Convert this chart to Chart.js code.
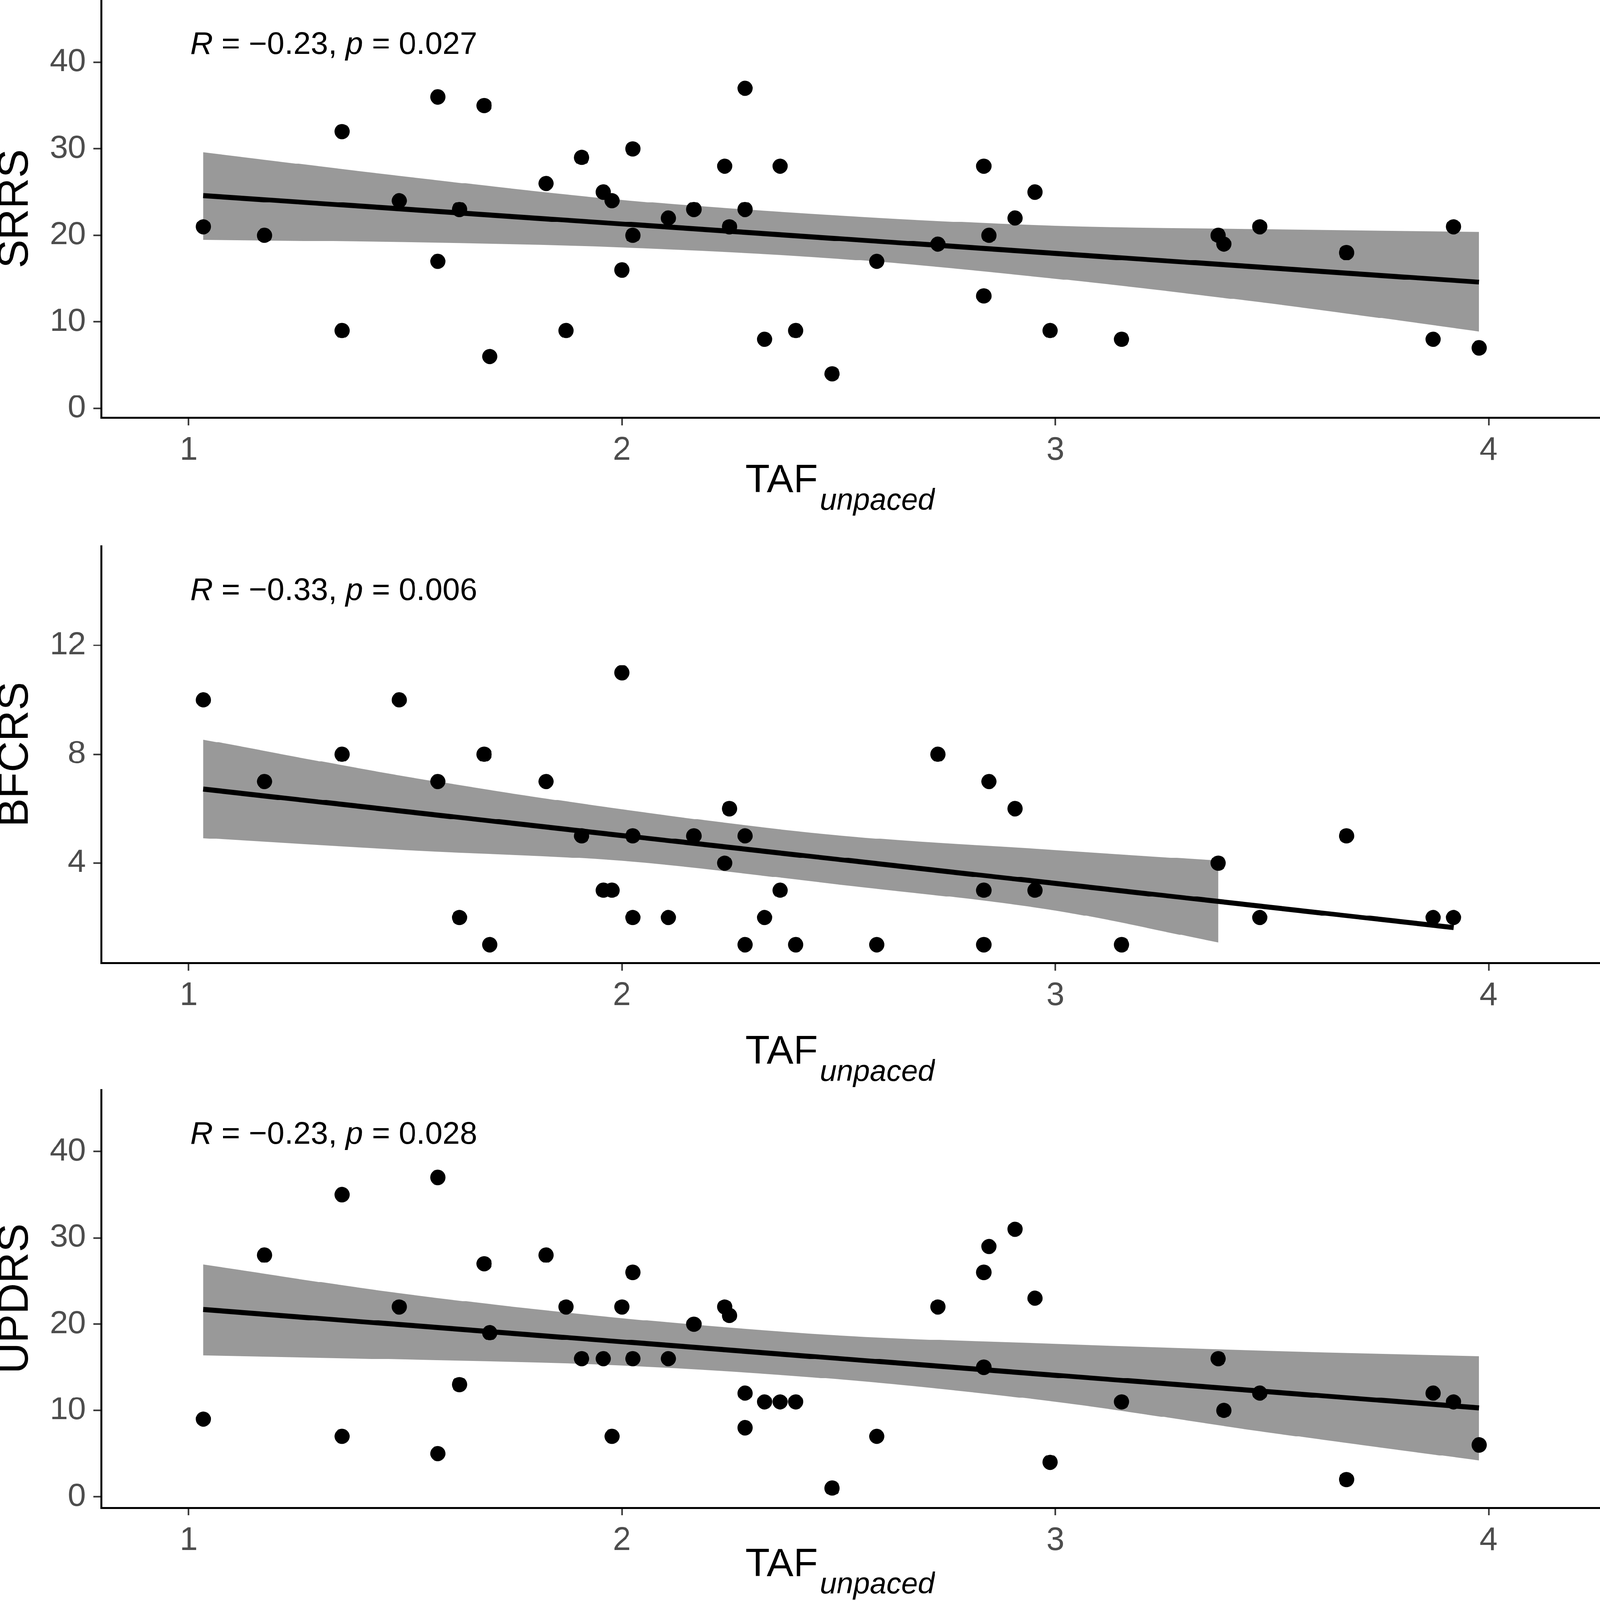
<!DOCTYPE html>
<html lang="en">
<head>
    <meta charset="UTF-8">
    <title>TAF unpaced vs SRRS, BFCRS, UPDRS</title>
    <script src="https://cdn.jsdelivr.net/npm/chart.js@4"></script>
    <style>
        html, body { margin: 0; padding: 0; background: #fff; overflow: hidden; }
        #page { position: relative; width: 4179px; height: 4179px; overflow: hidden; background: #fff; transform-origin: 0 0; }
        #page canvas { position: absolute; left: 0; }
    </style>
</head>
<body>
    <div id="page">
        <canvas id="srrsChart" width="4179" height="1400" style="top:0px;width:4179px;height:1400px"></canvas>
        <canvas id="bfcrsChart" width="4179" height="1520" style="top:1330px;width:4179px;height:1520px"></canvas>
        <canvas id="updrsChart" width="4179" height="1399" style="top:2780px;width:4179px;height:1399px"></canvas>
    </div>

    <script>
        // ---- data ----
        const xTicks = [1, 2, 3, 4];

        // SRRS panel
        const srrsTaf = [1.034, 1.175, 1.354, 1.354, 1.486, 1.575, 1.575, 1.625, 1.682, 1.695,
                         1.825, 1.871, 1.907, 1.957, 1.977, 2.000, 2.025, 2.025, 2.107, 2.166,
                         2.237, 2.248, 2.284, 2.284, 2.329, 2.365, 2.401, 2.485, 2.588, 2.729,
                         2.835, 2.835, 2.847, 2.907, 2.953, 2.988, 3.153, 3.376, 3.389, 3.472,
                         3.672, 3.872, 3.919, 3.978];
        const srrs = [21, 20, 32, 9, 24, 36, 17, 23, 35, 6,
                      26, 9, 29, 25, 24, 16, 30, 20, 22, 23,
                      28, 21, 37, 23, 8, 28, 9, 4, 17, 19,
                      28, 13, 20, 22, 25, 9, 8, 20, 19, 21,
                      18, 8, 21, 7];
        const srrsFitX = [1.034, 3.978];
        const srrsFitY = [24.6, 14.6];
        const srrsBandX = [1.034, 1.5, 2.0, 2.5, 3.0, 3.5, 3.978];
        const srrsBandHi = [29.6, 26.8, 24.1, 22.3, 21.1, 20.7, 20.4];
        const srrsBandLo = [19.5, 19.2, 18.6, 17.3, 15.0, 12.1, 8.9];
        const srrsTicks = [0, 10, 20, 30, 40];

        // BFCRS panel
        const bfcrsTaf = [1.034, 1.175, 1.354, 1.486, 1.575, 1.625, 1.682, 1.695, 1.825, 1.907,
                          1.957, 1.977, 2.000, 2.025, 2.025, 2.107, 2.166, 2.237, 2.248, 2.284,
                          2.284, 2.329, 2.365, 2.401, 2.588, 2.729, 2.835, 2.835, 2.847, 2.907,
                          2.953, 3.153, 3.376, 3.472, 3.672, 3.872, 3.919];
        const bfcrs = [10, 7, 8, 10, 7, 2, 8, 1, 7, 5,
                       3, 3, 11, 5, 2, 2, 5, 4, 6, 5,
                       1, 2, 3, 1, 1, 8, 3, 1, 7, 6,
                       3, 1, 4, 2, 5, 2, 2];
        const bfcrsFitX = [1.034, 3.919];
        const bfcrsFitY = [6.72, 1.63];
        const bfcrsBandX = [1.034, 1.5, 2.0, 2.5, 3.0, 3.376];
        const bfcrsBandHi = [8.54, 7.19, 5.98, 5.02, 4.48, 4.09];
        const bfcrsBandLo = [4.92, 4.48, 4.08, 3.21, 2.26, 1.08];
        const bfcrsTicks = [4, 8, 12];

        // UPDRS panel
        const updrsTaf = srrsTaf;
        const updrs = [9, 28, 35, 7, 22, 37, 5, 13, 27, 19,
                       28, 22, 16, 16, 7, 22, 26, 16, 16, 20,
                       22, 21, 12, 8, 11, 11, 11, 1, 7, 22,
                       26, 15, 29, 31, 23, 4, 11, 16, 10, 12,
                       2, 12, 11, 6];
        const updrsFitX = [1.034, 3.978];
        const updrsFitY = [21.7, 10.3];
        const updrsBandX = [1.034, 1.5, 2.0, 2.5, 3.0, 3.5, 3.978];
        const updrsBandHi = [26.9, 23.5, 20.7, 18.7, 17.7, 16.9, 16.3];
        const updrsBandLo = [16.4, 15.9, 15.2, 13.6, 11.0, 7.4, 4.2];
        const updrsTicks = [0, 10, 20, 30, 40];

        const rValues = ['-0.23', '-0.33', '-0.23'];
        const pValues = ['0.027', '0.006', '0.028'];

        // the layout is drawn at 4179px; squeeze it into the real viewport
        const page = document.getElementById('page');
        page.style.transform = 'scale(' + (window.innerWidth / 4179) + ',' + (window.innerHeight / 4179) + ')';

        // ---- drawing ----
        const FONT = '"Liberation Sans", Arial, Helvetica, sans-serif';
        const pts = (xs, ys) => xs.map((x, i) => ({ x: x, y: ys[i] }));

        // stats label + TAF_unpaced axis title (subscript needs manual text)
        function panelText(r, p, titleGap) {
            return {
                id: 'panelText',
                afterDraw(chart) {
                    const ctx = chart.ctx;
                    const area = chart.chartArea;
                    ctx.save();
                    ctx.fillStyle = '#000';
                    ctx.textAlign = 'left';
                    ctx.textBaseline = 'alphabetic';

                    let x = 497;
                    const y = area.top + 141;
                    const parts = [
                        ['italic', 'R'],
                        ['normal', ' = ' + r.replace('-', '\u2212') + ', '],
                        ['italic', 'p'],
                        ['normal', ' = ' + p]
                    ];
                    parts.forEach(([style, s]) => {
                        ctx.font = style + ' 82px ' + FONT;
                        ctx.fillText(s, x, y);
                        x += ctx.measureText(s).width;
                    });

                    const base = area.bottom + titleGap;
                    ctx.font = 'normal 104px ' + FONT;
                    const w1 = ctx.measureText('TAF').width;
                    ctx.font = 'italic 78px ' + FONT;
                    const w2 = ctx.measureText('unpaced').width;
                    const start = 2194 - (w1 + w2 + 6) / 2;
                    ctx.font = 'normal 104px ' + FONT;
                    ctx.fillText('TAF', start, base);
                    ctx.font = 'italic 78px ' + FONT;
                    ctx.fillText('unpaced', start + w1 + 6, base + 45);
                    ctx.restore();
                }
            };
        }

        function makePanel(id, cfg) {
            const ctx = document.getElementById(id).getContext('2d');
            return new Chart(ctx, {
                type: 'scatter',
                data: {
                    datasets: [
                        {
                            data: pts(cfg.taf, cfg.score),
                            backgroundColor: '#000',
                            borderWidth: 0,
                            pointRadius: 20,
                            pointHoverRadius: 20
                        },
                        {
                            type: 'line',
                            data: pts(cfg.fitX, cfg.fitY),
                            borderColor: '#000',
                            borderWidth: 13,
                            pointRadius: 0,
                            fill: false
                        },
                        {
                            type: 'line',
                            data: pts(cfg.bandX, cfg.bandHi),
                            borderWidth: 0,
                            borderColor: 'rgba(0,0,0,0)',
                            backgroundColor: '#999999',
                            pointRadius: 0,
                            cubicInterpolationMode: 'monotone',
                            fill: '+1'
                        },
                        {
                            type: 'line',
                            data: pts(cfg.bandX, cfg.bandLo),
                            borderWidth: 0,
                            borderColor: 'rgba(0,0,0,0)',
                            pointRadius: 0,
                            cubicInterpolationMode: 'monotone',
                            fill: false
                        }
                    ]
                },
                options: {
                    responsive: false,
                    devicePixelRatio: 1,
                    animation: false,
                    events: [],
                    layout: {
                        autoPadding: false,
                        padding: { top: cfg.padTop, left: 0, right: 0, bottom: 0 }
                    },
                    plugins: {
                        legend: { display: false },
                        tooltip: { enabled: false }
                    },
                    scales: {
                        x: {
                            type: 'linear',
                            min: 0.798,
                            max: 4.257,
                            afterBuildTicks: (s) => { s.ticks = xTicks.map(v => ({ value: v })); },
                            afterFit: (s) => {
                                s.height = cfg.xAxisH;
                                s.paddingLeft = 0; s.paddingRight = 0;
                            },
                            border: { display: true, color: '#000', width: 5 },
                            grid: { drawOnChartArea: false, drawTicks: true, tickLength: 20, tickWidth: 4, tickColor: '#333333' },
                            ticks: { color: '#4D4D4D', padding: 16, font: { family: FONT, size: 85 } }
                        },
                        y: {
                            min: cfg.yMin,
                            max: cfg.yMax,
                            afterBuildTicks: (s) => { s.ticks = cfg.ticks.map(v => ({ value: v })); },
                            afterFit: (s) => {
                                s.width = 264;
                                s.paddingTop = 0; s.paddingBottom = 0;
                            },
                            border: { display: true, color: '#000', width: 5 },
                            grid: { drawOnChartArea: false, drawTicks: true, tickLength: 20, tickWidth: 4, tickColor: '#333333' },
                            ticks: { color: '#4D4D4D', padding: 20, font: { family: FONT, size: 84 } },
                            title: {
                                display: true,
                                text: cfg.label,
                                color: '#000',
                                padding: 0,
                                font: { family: FONT, size: 112, lineHeight: 0.73 }
                            }
                        }
                    }
                },
                plugins: [panelText(cfg.r, cfg.p, cfg.titleGap)]
            });
        }

        makePanel('srrsChart', {
            taf: srrsTaf, score: srrs, fitX: srrsFitX, fitY: srrsFitY,
            bandX: srrsBandX, bandHi: srrsBandHi, bandLo: srrsBandLo,
            ticks: srrsTicks, yMin: -1.07, yMax: 47.2, label: 'SRRS',
            r: rValues[0], p: pValues[0],
            padTop: 0, xAxisH: 309, titleGap: 195
        });

        makePanel('bfcrsChart', {
            taf: bfcrsTaf, score: bfcrs, fitX: bfcrsFitX, fitY: bfcrsFitY,
            bandX: bfcrsBandX, bandHi: bfcrsBandHi, bandLo: bfcrsBandLo,
            ticks: bfcrsTicks, yMin: 0.33, yMax: 15.66, label: 'BFCRS',
            r: rValues[1], p: pValues[1],
            padTop: 96, xAxisH: 335, titleGap: 263
        });

        makePanel('updrsChart', {
            taf: updrsTaf, score: updrs, fitX: updrsFitX, fitY: updrsFitY,
            bandX: updrsBandX, bandHi: updrsBandHi, bandLo: updrsBandLo,
            ticks: updrsTicks, yMin: -1.27, yMax: 47.17, label: 'UPDRS',
            r: rValues[2], p: pValues[2],
            padTop: 66, xAxisH: 241, titleGap: 179
        });
    </script>
</body>
</html>
